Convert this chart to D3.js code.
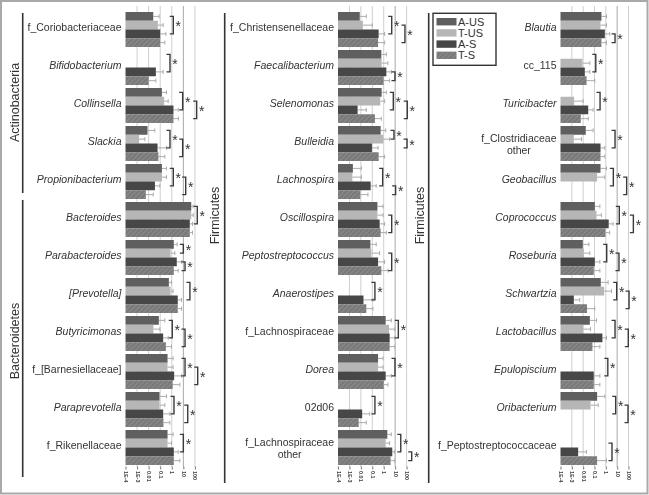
<!DOCTYPE html>
<html><head><meta charset="utf-8">
<script src="https://cdn.jsdelivr.net/npm/d3@7"></script>
<style>body{margin:0;background:#fff} svg{display:block;font-family:"Liberation Sans",Arial,sans-serif;filter:grayscale(1)}</style>
</head><body><svg id="c" width="649" height="495"></svg>
<script>
const series = ["A-US","T-US","A-S","T-S"];
const categories = ["f_Coriobacteriaceae","Bifidobacterium","Collinsella","Slackia","Propionibacterium","Bacteroides","Parabacteroides","[Prevotella]","Butyricimonas","f_[Barnesiellaceae]","Paraprevotella","f_Rikenellaceae",
 "f_Christensenellaceae","Faecalibacterium","Selenomonas","Bulleidia","Lachnospira","Oscillospira","Peptostreptococcus","Anaerostipes","f_Lachnospiraceae","Dorea","02d06","f_Lachnospiraceae other",
 "Blautia","cc_115","Turicibacter","f_Clostridiaceae other","Geobacillus","Coprococcus","Roseburia","Schwartzia","Lactobacillus","Epulopiscium","Oribacterium","f_Peptostreptococcaceae"];
const italicCats = ["Bifidobacterium","Collinsella","Slackia","Propionibacterium","Bacteroides","Parabacteroides","[Prevotella]","Butyricimonas","Paraprevotella","Faecalibacterium","Selenomonas","Bulleidia","Lachnospira","Oscillospira","Peptostreptococcus","Anaerostipes","Dorea","Blautia","Turicibacter","Geobacillus","Coprococcus","Roseburia","Schwartzia","Lactobacillus","Epulopiscium","Oribacterium"];
// mean relative abundance (%)
const aUS = [0.025,null,0.14,0.008,0.14,48,1.5,0.56,0.076,0.43,0.087,0.43,
 0.008,0.62,0.66,0.54,0.002,0.28,0.068,null,1.48,0.32,null,2.06,
 0.41,null,null,0.017,0.34,0.107,0.0093,0.36,0.039,null,0.17,null];
const tUS = [0.063,null,0.22,0.0015,0.14,48,0.78,0.78,0.026,0.43,0.087,0.43,
 0.015,0.66,0.5,0.93,0.0018,0.28,0.083,null,2.9,0.32,null,1.48,
 0.34,0.0087,0.0016,0.0015,0.17,0.15,0.0115,0.71,0.01,null,0.045,null];
const aS = [0.1,0.042,1.4,0.059,0.035,36,2.7,3.3,0.18,1.6,0.18,1.5,
 0.36,1.7,0.0052,0.093,0.072,0.44,0.32,0.017,3.3,1.48,0.013,5.6,
 0.82,0.014,0.028,0.34,null,1.8,0.107,0.0015,0.5,0.087,null,0.0036];
const tS = [0.1,0.01,1.4,0.07,0.0057,36,1.5,3.3,0.31,1.2,0.19,1.5,
 0.32,0.98,0.17,0.36,0.009,0.54,0.62,0.03,3.3,1.0,0.0065,4.0,
 0.41,0.02,0.0062,0.34,null,0.93,0.087,0.022,0.066,0.087,null,0.17];
// upper end of error bars
const aUSErr = [0.081,null,0.35,0.034,0.35,71,2.9,0.95,0.25,1.3,0.35,1.3,
 0.03,1.7,1.7,1.5,0.011,0.87,0.22,null,4.6,0.87,null,4.6,
 1.15,null,null,0.076,1.15,0.3,0.032,1.6,0.15,null,0.82,null];
const tUSErr = [0.18,null,0.49,0.0047,0.35,71,1.85,1.3,0.093,1.3,0.25,0.95,
 0.1,2.3,1.2,3.3,0.011,0.87,0.44,null,9.1,0.87,null,3.3,
 1.15,0.039,0.01,0.0071,0.82,0.41,0.039,3.2,0.045,null,0.21,null];
const aSErr = [0.31,0.18,3.6,0.35,0.093,62,6.9,6.9,0.49,6.9,0.68,3.6,
 1.2,4.6,0.03,0.32,0.22,1.2,1.2,0.115,9.1,4.6,0.059,9.1,
 2.2,0.039,0.076,0.82,null,4.4,0.3,0.005,1.15,0.3,null,0.02];
const tSErr = [0.25,0.042,3.8,0.25,0.025,62,3.6,6.9,0.95,5.0,0.68,5.0,
 1.2,3.3,0.62,1.2,0.042,1.7,2.35,0.115,9.1,2.35,0.03,9.1,
 1.15,0.107,0.028,0.82,null,2.2,0.3,0.107,0.3,0.3,null,1.15];
// significance brackets: [category, bar index a, bar index b, bracket level (data units)]
const sigBrackets = [
 ["f_Coriobacteriaceae",0,2,1.35],["Bifidobacterium",0,2,0.7],
 ["Collinsella",0,2,8.7],["Collinsella",1,3,142],
 ["Slackia",0,2,0.7],["Slackia",1,3,8.7],
 ["Propionibacterium",0,2,1.35],["Propionibacterium",1,3,16],
 ["Bacteroides",0,2,160],
 ["Parabacteroides",0,1,10],["Parabacteroides",2,3,14],
 ["[Prevotella]",0,2,37],
 ["Butyricimonas",0,2,1.1],["Butyricimonas",1,3,14],
 ["f_[Barnesiellaceae]",0,2,14],["f_[Barnesiellaceae]",1,3,174],
 ["Paraprevotella",0,2,1.55],["Paraprevotella",1,3,24],
 ["f_Rikenellaceae",0,2,10],
 ["f_Christensenellaceae",0,2,5],["f_Christensenellaceae",1,3,72],
 ["Faecalibacterium",2,3,9.7],
 ["Selenomonas",0,2,6.9],["Selenomonas",1,3,115],
 ["Bulleidia",0,1,7.9],["Bulleidia",1,2,110],
 ["Lachnospira",0,2,0.81],["Lachnospira",2,3,11],
 ["Oscillospira",1,3,5],["Peptostreptococcus",1,3,5],
 ["Anaerostipes",0,2,0.17],["f_Lachnospiraceae",0,2,19],
 ["Dorea",0,2,9.7],["02d06",0,2,0.17],
 ["f_Lachnospiraceae other",0,2,31],["f_Lachnospiraceae other",2,3,280],
 ["Blautia",2,3,6.5],["cc_115",0,2,0.13],["Turicibacter",0,2,0.31],
 ["f_Clostridiaceae other",0,2,6.5],
 ["Geobacillus",0,2,4.6],["Geobacillus",1,3,69],
 ["Coprococcus",0,2,15.5],["Coprococcus",1,3,270],
 ["Roseburia",0,2,1.2],["Roseburia",1,3,14.5],
 ["Schwartzia",0,2,9.1],["Schwartzia",1,3,112],
 ["Lactobacillus",0,2,6.5],["Lactobacillus",1,3,96],
 ["Epulopiscium",0,2,1.5],
 ["Oribacterium",0,2,7.4],["Oribacterium",1,3,91],
 ["f_Peptostreptococcaceae",1,3,3.5]
];
const tickValues = [1e-4,1e-3,0.01,0.1,1,10,100];
const tickLabels = ["1E-4","1E-3","0.01","0.1","1","10","100"];
const phylumNames = ["Actinobacteria","Bacteroidetes","Firmicutes","Firmicutes"];

// ---------- layout ----------
const svg = d3.select("#c");
const colors = {"A-US":"#5f5f5f","T-US":"#b6b6b6","A-S":"#474747","T-S":"url(#hatch)"};
const defs = svg.append("defs");
const pat = defs.append("pattern").attr("id","hatch").attr("patternUnits","userSpaceOnUse")
  .attr("width",3.5).attr("height",3.5).attr("patternTransform","rotate(45)");
pat.append("rect").attr("width",3.5).attr("height",3.5).attr("fill","#7a7a7a");
pat.append("line").attr("x1",0).attr("y1",0).attr("x2",0).attr("y2",3.5).attr("stroke","#969696").attr("stroke-width",1.2);

svg.append("rect").attr("x",1).attr("y",1).attr("width",646.5).attr("height",492.5)
  .attr("fill","none").attr("stroke","#a9a9a9").attr("stroke-width",2);

const values = [aUS,tUS,aS,tS];
const errs = [aUSErr,tUSErr,aSErr,tSErr];
const panels = [{x0:125.5,dec:11.57},{x0:338,dec:11.43},{x0:560.5,dec:11.33}];

panels.forEach((p,pi)=>{
  const cats = categories.slice(pi*12, pi*12+12);
  const x = d3.scaleLog().domain([1e-4,100]).range([p.x0, p.x0+6*p.dec]);
  const y = d3.scaleBand().domain(cats).range([10.5,466.5]).paddingInner(3/38).paddingOuter(1.5/38);
  const yi = d3.scaleBand().domain(series).range([0,y.bandwidth()]);
  const g = svg.append("g");
  // gridlines
  g.selectAll(".grid").data(tickValues.slice(1)).join("line")
    .attr("x1",d=>x(d)).attr("x2",d=>x(d)).attr("y1",6).attr("y2",467)
    .attr("stroke",d=>d===10?"#a8a8a8":"#cfcfcf").attr("stroke-width",1);
  // axis ticks and labels
  const ax = g.append("g").attr("transform","translate(0,466.5)")
    .call(d3.axisBottom(x).tickValues(tickValues).tickFormat((d,i)=>tickLabels[i]).tickSize(3).tickPadding(0));
  ax.select(".domain").remove();
  ax.selectAll(".tick line").attr("stroke","#777");
  ax.selectAll(".tick text").attr("transform","translate(0,4.5) rotate(90)").attr("text-anchor","start")
    .attr("x",0).attr("y",0).attr("dy","0.35em").attr("font-size",5.5).attr("font-weight","bold").attr("fill","#444")
    .attr("font-family","Liberation Sans, Arial, sans-serif");
  // bars
  cats.forEach((c,ci)=>{
    const idx = pi*12+ci;
    series.forEach((s,si)=>{
      const v = values[si][idx];
      if (v==null) return;
      const yy = y(c)+yi(s);
      const e = errs[si][idx];
      if (e!=null){
        g.append("line").attr("x1",x(v)).attr("x2",x(e)).attr("y1",yy+yi.bandwidth()/2).attr("y2",yy+yi.bandwidth()/2)
          .attr("stroke","#ababab").attr("stroke-width",1);
        g.append("line").attr("x1",x(e)).attr("x2",x(e)).attr("y1",yy+yi.bandwidth()/2-2).attr("y2",yy+yi.bandwidth()/2+2)
          .attr("stroke","#ababab").attr("stroke-width",1);
      }
      g.append("rect").attr("x",x(1e-4)).attr("y",yy).attr("width",x(v)-x(1e-4)).attr("height",yi.bandwidth())
        .attr("fill",colors[s]);
    });
    // labels
    const cy = y(c)+y.bandwidth()/2;
    const it = italicCats.includes(c);
    const lx = x(1e-4)-4;
    if (c.endsWith(" other")){
      const l1 = c.replace(" other","");
      const t1 = g.append("text").attr("x",lx).attr("y",cy-5).attr("dy","0.35em").attr("text-anchor","end")
        .attr("font-size",10.5).attr("fill","#333").attr("font-style",it?"italic":"normal").text(l1);
      const w = t1.node().getComputedTextLength();
      g.append("text").attr("x",lx-w/2).attr("y",cy+7.3).attr("dy","0.35em").attr("text-anchor","middle")
        .attr("font-size",10.5).attr("fill","#333").text("other");
    } else {
      g.append("text").attr("x",lx).attr("y",cy-2.5).attr("dy","0.35em").attr("text-anchor","end")
        .attr("font-size",10.5).attr("fill","#333").attr("font-style",it?"italic":"normal").text(c);
    }
  });
  // brackets
  sigBrackets.filter(b=>cats.includes(b[0])).forEach(b=>{
    const ya = y(b[0])+yi(series[b[1]])+yi.bandwidth()/2;
    const yb = y(b[0])+yi(series[b[2]])+yi.bandwidth()/2;
    const bx = x(b[3]);
    g.append("path").attr("d",`M${bx-3.5},${ya}H${bx}V${yb}H${bx-3.5}`).attr("fill","none")
      .attr("stroke","#3a3a3a").attr("stroke-width",1.4);
    g.append("text").attr("x",bx+2.3).attr("y",(ya+yb)/2+6).attr("font-size",14).attr("fill","#333").text("*");
  });
});

// phylum labels and lines
const phyl = [
  {name:phylumNames[0], lx:22.7, y1:13, y2:193, tx:19, ty:102.5},
  {name:phylumNames[1], lx:22.7, y1:200, y2:477, tx:19, ty:341},
  {name:phylumNames[2], lx:224.7, y1:13, y2:483, tx:218.5, ty:215.5},
  {name:phylumNames[3], lx:428.7, y1:13, y2:483, tx:423.5, ty:215.5}
];
phyl.forEach(p=>{
  svg.append("line").attr("x1",p.lx).attr("x2",p.lx).attr("y1",p.y1).attr("y2",p.y2).attr("stroke","#333").attr("stroke-width",1.6);
  svg.append("text").attr("transform",`translate(${p.tx},${p.ty}) rotate(-90)`).attr("text-anchor","middle")
    .attr("font-size",12.5).attr("fill","#333").text(p.name);
});

// legend
const lg = svg.append("g");
lg.append("rect").attr("x",433).attr("y",13.3).attr("width",63).attr("height",52).attr("fill","#fff")
  .attr("stroke","#333").attr("stroke-width",1.4);
series.forEach((s,i)=>{
  const yy = 21.7 + i*11.2;
  lg.append("rect").attr("x",436.5).attr("y",yy-3.7).attr("width",20).attr("height",7.4).attr("fill",colors[s]);
  lg.append("text").attr("x",458).attr("y",yy).attr("dy","0.35em").attr("font-size",11).attr("fill","#333").text(s);
});
</script></body></html>
